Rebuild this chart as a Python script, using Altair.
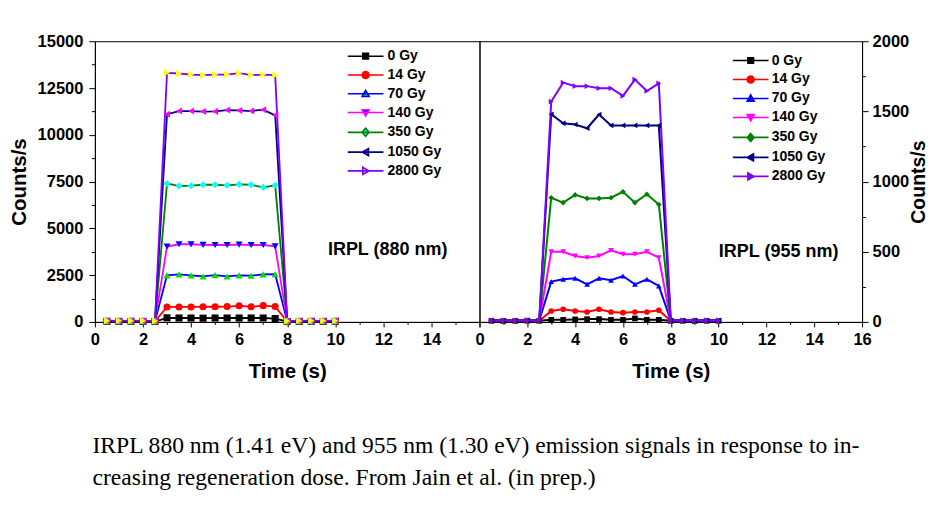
import altair as alt
import pandas as pd

# ---------------- data ----------------
times = [0.5, 1.0, 1.5, 2.0, 2.5, 3.0, 3.5, 4.0, 4.5, 5.0,
         5.5, 6.0, 6.5, 7.0, 7.5, 8.0, 8.5, 9.0, 9.5, 10.0]
doses = ["0 Gy", "14 Gy", "70 Gy", "140 Gy", "350 Gy", "1050 Gy", "2800 Gy"]

# IRPL 880 nm (left panel, counts/s)
irpl880_0gy = [30, 25, 30, 25, 20, 220, 210, 210, 200, 210, 210, 210, 210, 210, 180, 20, 25, 30, 25, 30]
irpl880_14gy = [40, 35, 40, 35, 30, 800, 800, 800, 810, 810, 820, 860, 810, 870, 820, 30, 35, 40, 35, 40]
irpl880_70gy = [45, 40, 45, 40, 35, 2490, 2540, 2490, 2430, 2500, 2430, 2490, 2470, 2540, 2550, 35, 40, 45, 40, 45]
irpl880_140gy = [50, 45, 50, 45, 40, 4030, 4150, 4150, 4120, 4110, 4110, 4130, 4110, 4110, 4040, 40, 45, 50, 45, 50]
irpl880_350gy = [55, 50, 55, 50, 45, 7400, 7260, 7280, 7330, 7330, 7300, 7350, 7330, 7190, 7300, 45, 50, 55, 50, 55]
irpl880_1050gy = [60, 55, 60, 55, 50, 11100, 11270, 11270, 11240, 11250, 11320, 11300, 11270, 11340, 11040, 50, 55, 60, 55, 60]
irpl880_2800gy = [65, 60, 65, 60, 55, 13310, 13275, 13220, 13185, 13220, 13220, 13290, 13185, 13220, 13185, 55, 60, 65, 60, 65]

# IRPL 955 nm (right panel, counts/s)
irpl955_0gy = [8, 7, 8, 9, 8, 15, 15, 18, 20, 20, 15, 15, 25, 15, 15, 8, 8, 7, 8, 8]
irpl955_14gy = [9, 8, 9, 8, 9, 78, 90, 78, 71, 90, 71, 66, 71, 71, 83, 9, 8, 9, 9, 8]
irpl955_70gy = [9, 9, 8, 9, 10, 287, 304, 311, 268, 311, 297, 327, 268, 304, 256, 10, 9, 8, 9, 9]
irpl955_140gy = [10, 9, 9, 10, 10, 500, 500, 470, 458, 470, 510, 482, 482, 500, 458, 10, 9, 10, 9, 10]
irpl955_350gy = [10, 10, 9, 10, 11, 885, 850, 905, 880, 880, 885, 927, 850, 910, 837, 11, 10, 9, 10, 10]
irpl955_1050gy = [11, 10, 10, 11, 11, 1480, 1415, 1407, 1380, 1478, 1400, 1400, 1400, 1400, 1400, 11, 10, 11, 10, 11]
irpl955_2800gy = [11, 11, 10, 11, 12, 1570, 1705, 1680, 1680, 1665, 1665, 1610, 1727, 1645, 1700, 12, 11, 10, 11, 11]

left_line_colors = ["#000000", "#ff0000", "#0000ff", "#ff00ff", "#008000", "#000080", "#8000ff"]
left_marker_colors = ["#000000", "#ff0000", "#00e000", "#0000ff", "#00ffff", "#ff00ff", "#ffff00"]
right_line_colors = ["#000000", "#ff0000", "#0000ff", "#ff00ff", "#008000", "#000080", "#8000ff"]
right_marker_colors = right_line_colors

marker_shapes = ["square", "circle", "triangle-up", "triangle-down", "diamond", "triangle-left", "triangle-right"]
legend_marks = [
    "M-0.8,-0.8H0.8V0.8H-0.8Z",
    "M1,0A1,1,0,1,1,-1,0A1,1,0,1,1,1,0Z",
    "M0,-1L1,0.8L-1,0.8Z",
    "M0,1L1,-0.8L-1,-0.8Z",
    "M0,-1.15L1,0L0,1.15L-1,0Z",
    "M-1,0L0.8,-1L0.8,1Z",
    "M1,0L-0.8,-1L-0.8,1Z",
]
legend_shapes = ["M-5.1,0H5.1" + m for m in legend_marks]

caption = [
    "IRPL 880 nm (1.41 eV) and 955 nm (1.30 eV) emission signals in response to in-",
    "creasing regeneration dose. From Jain et al. (in prep.)",
]

SANS = "Liberation Sans, Arial, Helvetica, sans-serif"
SERIF = "Liberation Serif, Times New Roman, serif"


def frame(series):
    rows = []
    for dose, vals in zip(doses, series):
        for t, v in zip(times, vals):
            rows.append({"t": t, "v": v, "dose": dose})
    return pd.DataFrame(rows)


def panel(df, width, line_colors, marker_colors, ymax, ystep, ylabel_step, yorient,
          xlabel_max, marker_size, line_width, note, note_t, note_v,
          legend_x, legend_y, label_offset, row_pad):
    xaxis = alt.Axis(
        values=list(range(0, 17)), format="d",
        labelExpr=f"datum.value % 2 === 0 && datum.value <= {xlabel_max} ? datum.label : ''",
        tickSize={"condition": {"test": "datum.value % 2 !== 0", "value": 2.5}, "value": 5},
        labelPadding=5, title="Time (s)", titlePadding=13,
        labelFlush=False, labelOverlap=False, grid=False,
    )
    yvals = list(range(0, ymax + 1, ystep))
    if yorient == "left":
        yaxis = alt.Axis(
            orient="left", values=yvals, format="d",
            labelExpr=f"datum.value % {ylabel_step} === 0 ? datum.label : ''",
            tickSize={"condition": {"test": f"datum.value % {ylabel_step} !== 0", "value": 3.5}, "value": 6},
            labelPadding=6, title="Counts/s", titlePadding=8, titleAngle=270,
            titleBaseline="bottom", labelFlush=False, labelOverlap=False, grid=False,
        )
    else:
        yaxis = alt.Axis(
            orient="right", values=yvals, format="d",
            labelExpr=f"datum.value % {ylabel_step} === 0 ? datum.label : ''",
            tickSize={"condition": {"test": f"datum.value % {ylabel_step} !== 0", "value": 3.5}, "value": 6},
            labelPadding=4, title="Counts/s", titlePadding=0.5, titleAngle=270,
            titleFontSize=19.5, titleBaseline="top",
            labelFlush=False, labelOverlap=False, grid=False,
        )
    x = alt.X("t:Q", scale=alt.Scale(domain=[0, 16], nice=False, zero=False), axis=xaxis)
    y = alt.Y("v:Q", scale=alt.Scale(domain=[0, ymax], nice=False), axis=yaxis)

    base = alt.Chart(df)
    leg = alt.Legend(
        title=None, orient="none", legendX=legend_x, legendY=legend_y,
        labelOffset=label_offset, rowPadding=row_pad, padding=0,
        symbolSize=49, symbolStrokeWidth=1.6, symbolOpacity=1,
        labelFont=SANS, labelFontSize=14, labelFontWeight="bold", labelColor="black",
    )
    layers = [
        # invisible carrier of the legend (line + marker symbols)
        base.mark_point(opacity=0, strokeWidth=1.6, size=49).encode(
            x=x, y=y,
            stroke=alt.Stroke("dose:N", scale=alt.Scale(domain=doses, range=line_colors), legend=leg),
            fill=alt.Fill("dose:N", scale=alt.Scale(domain=doses, range=marker_colors), legend=leg),
            shape=alt.Shape("dose:N", scale=alt.Scale(domain=doses, range=legend_shapes), legend=leg),
        ),
        base.mark_line(strokeWidth=line_width).encode(
            x=x, y=y,
            color=alt.Color("dose:N", scale=alt.Scale(domain=doses, range=line_colors), legend=None),
        ),
    ]
    # markers, one layer per dose so that every series keeps its own symbol
    for dose, shape, colour in zip(doses, marker_shapes, marker_colors):
        layers.append(
            base.transform_filter(alt.datum.dose == dose).mark_point(
                filled=True, shape=shape, size=marker_size, opacity=1, color=colour
            ).encode(x=x, y=y)
        )
    note_df = pd.DataFrame({"t": [note_t], "v": [note_v], "label": [note]})
    layers.append(
        alt.Chart(note_df).mark_text(
            font=SANS, fontSize=18, fontWeight="bold", align="center",
            baseline="alphabetic", color="black",
        ).encode(x=x, y=y, text="label:N")
    )
    return alt.layer(*layers).properties(width=width, height=281)


left = panel(
    frame([irpl880_0gy, irpl880_14gy, irpl880_70gy, irpl880_140gy,
           irpl880_350gy, irpl880_1050gy, irpl880_2800gy]),
    385, left_line_colors, left_marker_colors, 15000, 1250, 2500, "left",
    14, 50, 1.8, "IRPL (880 nm)", 12.18, 3590,
    264, 8, 15, 4.8,
)
right = panel(
    frame([irpl955_0gy, irpl955_14gy, irpl955_70gy, irpl955_140gy,
           irpl955_350gy, irpl955_1050gy, irpl955_2800gy]),
    383, right_line_colors, right_marker_colors, 2000, 250, 500, "right",
    16, 32, 2.0, "IRPL (955 nm)", 12.51, 461,
    264.5, 12.3, 14, 5.0,
)

chart = alt.hconcat(left, right, spacing=0, bounds="flush").resolve_scale(
    x="independent", y="independent", color="independent",
    fill="independent", stroke="independent", shape="independent",
).resolve_legend(
    color="independent", fill="independent", stroke="independent", shape="independent",
).resolve_axis(x="independent", y="independent").properties(
    padding={"left": 0, "top": 24, "right": 0, "bottom": 0},
    background="white",
    title=alt.TitleParams(
        text=caption, orient="bottom", anchor="start", dx=84, offset=52,
        font=SERIF, fontSize=23.6, fontWeight="normal", lineHeight=32, color="black",
    ),
).configure_view(stroke="black", strokeWidth=1).configure_axis(
    labelFont=SANS, labelFontSize=16.5, labelFontWeight="bold", labelColor="black",
    titleFont=SANS, titleFontSize=20.5, titleFontWeight="bold", titleColor="black",
    domainColor="black", domainWidth=1, tickColor="black", tickWidth=1,
)

chart.save("out.html", embed_options={"renderer": "svg", "actions": False})
